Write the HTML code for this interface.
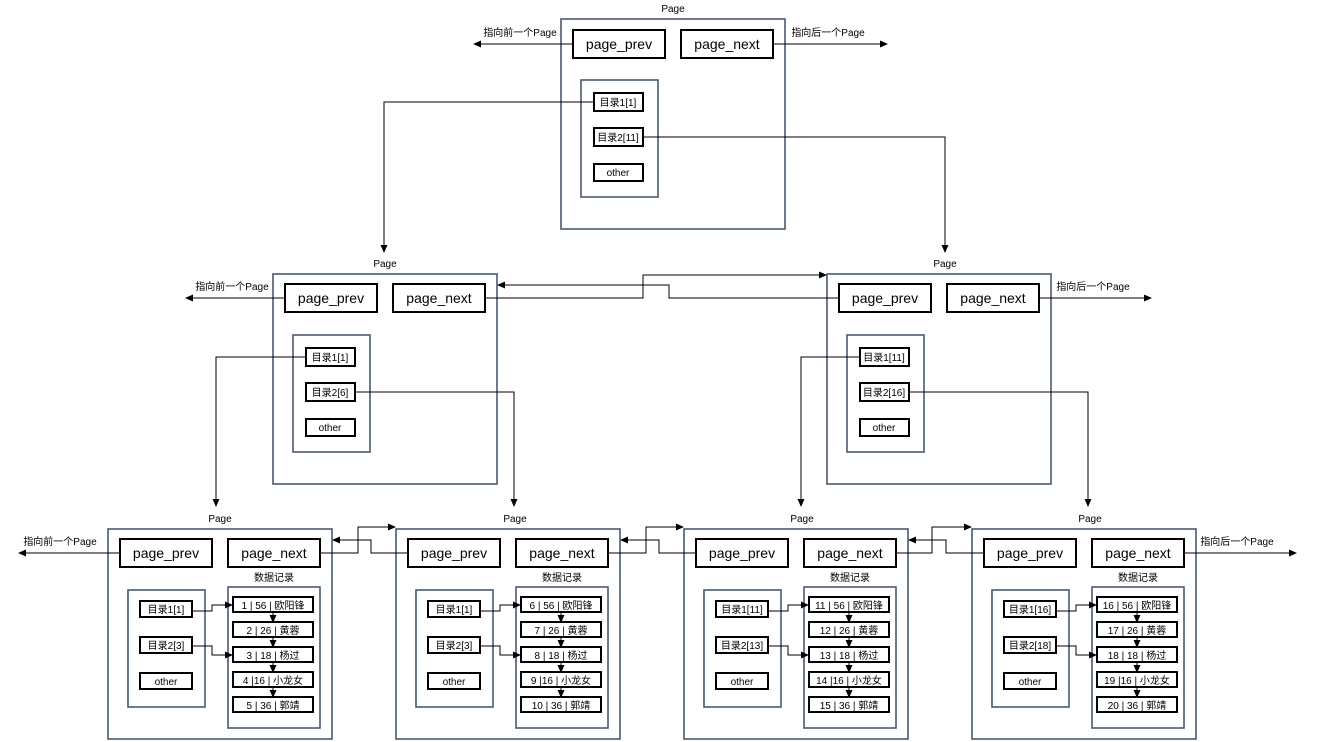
<!DOCTYPE html>
<html><head><meta charset="utf-8"><style>
html,body{margin:0;padding:0;background:#fff}
svg{display:block}
text{font-family:"Liberation Sans","Noto Sans CJK SC",sans-serif;fill:#000}
.o{fill:#fff;stroke:#4a5a70;stroke-width:1.6}
.b{fill:#fff;stroke:#000;stroke-width:2}
.l{fill:none;stroke:#000;stroke-width:1}
.big{font-size:14px}
.sm{font-size:10px}
</style></head><body>
<svg width="1322" height="742" viewBox="0 0 1322 742" xmlns="http://www.w3.org/2000/svg">
<defs>
<marker id="a" markerWidth="8" markerHeight="8" refX="7" refY="4" orient="auto" markerUnits="userSpaceOnUse"><path d="M0,0.5 L8,4 L0,7.5z" fill="#000"/></marker>
</defs>

<!-- TOP PAGE -->
<text x="673" y="12" class="sm" text-anchor="middle">Page</text>
<g transform="translate(561,19)">
<rect class="o" x="0" y="0" width="224" height="210"/>
<rect class="b" x="12" y="11" width="92" height="28"/><text x="58" y="30" class="big" text-anchor="middle">page_prev</text>
<rect class="b" x="120" y="11" width="92" height="28"/><text x="166" y="30" class="big" text-anchor="middle">page_next</text>
<rect class="o" x="20" y="61" width="77" height="117"/>
<rect class="b" x="33" y="74" width="49" height="18"/><text x="57" y="87" class="sm" text-anchor="middle">目录1[1]</text>
<rect class="b" x="33" y="109" width="49" height="18"/><text x="57" y="122" class="sm" text-anchor="middle">目录2[11]</text>
<rect class="b" x="33" y="145" width="49" height="17"/><text x="57" y="157" class="sm" text-anchor="middle">other</text>
</g>
<path class="l" d="M573,44 H474" marker-end="url(#a)"/>
<text x="520" y="36" class="sm" text-anchor="middle">指向前一个Page</text>
<path class="l" d="M773,44 H887" marker-end="url(#a)"/>
<text x="828" y="36" class="sm" text-anchor="middle">指向后一个Page</text>
<path class="l" d="M594,102 H384 V252" marker-end="url(#a)"/>
<path class="l" d="M643,137 H945 V252" marker-end="url(#a)"/>

<!-- MID PAGES -->
<text x="385" y="267" class="sm" text-anchor="middle">Page</text>
<text x="945" y="267" class="sm" text-anchor="middle">Page</text>
<g transform="translate(273,274)">
<rect class="o" x="0" y="0" width="224" height="210"/>
<rect class="b" x="12" y="10" width="92" height="28"/><text x="58" y="29" class="big" text-anchor="middle">page_prev</text>
<rect class="b" x="120" y="10" width="92" height="28"/><text x="166" y="29" class="big" text-anchor="middle">page_next</text>
<rect class="o" x="20" y="61" width="77" height="117"/>
<rect class="b" x="33" y="74" width="49" height="18"/><text x="57" y="87" class="sm" text-anchor="middle">目录1[1]</text>
<rect class="b" x="33" y="109" width="49" height="18"/><text x="57" y="122" class="sm" text-anchor="middle">目录2[6]</text>
<rect class="b" x="33" y="145" width="49" height="17"/><text x="57" y="157" class="sm" text-anchor="middle">other</text>
</g>
<g transform="translate(827,274)">
<rect class="o" x="0" y="0" width="224" height="210"/>
<rect class="b" x="12" y="10" width="92" height="28"/><text x="58" y="29" class="big" text-anchor="middle">page_prev</text>
<rect class="b" x="120" y="10" width="92" height="28"/><text x="166" y="29" class="big" text-anchor="middle">page_next</text>
<rect class="o" x="20" y="61" width="77" height="117"/>
<rect class="b" x="33" y="74" width="49" height="18"/><text x="57" y="87" class="sm" text-anchor="middle">目录1[11]</text>
<rect class="b" x="33" y="109" width="49" height="18"/><text x="57" y="122" class="sm" text-anchor="middle">目录2[16]</text>
<rect class="b" x="33" y="145" width="49" height="17"/><text x="57" y="157" class="sm" text-anchor="middle">other</text>
</g>
<path class="l" d="M285,298 H186" marker-end="url(#a)"/>
<text x="232" y="290" class="sm" text-anchor="middle">指向前一个Page</text>
<path class="l" d="M1039,298 H1151" marker-end="url(#a)"/>
<text x="1093" y="290" class="sm" text-anchor="middle">指向后一个Page</text>
<path class="l" d="M485,298 H643 V275 H826" marker-end="url(#a)"/>
<path class="l" d="M839,298 H669 V285 H498" marker-end="url(#a)"/>
<path class="l" d="M306,357 H216 V506" marker-end="url(#a)"/>
<path class="l" d="M355,392 H514 V506" marker-end="url(#a)"/>
<path class="l" d="M860,357 H801 V506" marker-end="url(#a)"/>
<path class="l" d="M909,392 H1088 V506" marker-end="url(#a)"/>

<!-- BOTTOM PAGES -->
<text x="220" y="522" class="sm" text-anchor="middle">Page</text>
<text x="515" y="522" class="sm" text-anchor="middle">Page</text>
<text x="802" y="522" class="sm" text-anchor="middle">Page</text>
<text x="1090" y="522" class="sm" text-anchor="middle">Page</text>

<g transform="translate(108,529)">
<rect class="o" x="0" y="0" width="224" height="210"/>
<rect class="b" x="12" y="10" width="92" height="28"/><text x="58" y="29" class="big" text-anchor="middle">page_prev</text>
<rect class="b" x="120" y="10" width="92" height="28"/><text x="166" y="29" class="big" text-anchor="middle">page_next</text>
<text x="166" y="52" class="sm" text-anchor="middle">数据记录</text>
<rect class="o" x="120" y="58" width="92" height="141"/>
<rect class="o" x="20" y="61" width="77" height="117"/>
<rect class="b" x="32" y="72" width="52" height="16"/><text x="58" y="84" class="sm" text-anchor="middle">目录1[1]</text>
<rect class="b" x="32" y="108" width="52" height="16"/><text x="58" y="120" class="sm" text-anchor="middle">目录2[3]</text>
<rect class="b" x="32" y="144" width="52" height="16"/><text x="58" y="156" class="sm" text-anchor="middle">other</text>
<path class="l" d="M84,82 H104 V76 H124" marker-end="url(#a)"/>
<path class="l" d="M84,117 H104 V126 H124" marker-end="url(#a)"/>
<path class="l" d="M165,83 V93" marker-end="url(#a)"/><path class="l" d="M165,108 V118" marker-end="url(#a)"/><path class="l" d="M165,133 V143" marker-end="url(#a)"/><path class="l" d="M165,158 V168" marker-end="url(#a)"/>
<rect class="b" x="125" y="68" width="80" height="15"/><text x="165" y="80" class="sm" text-anchor="middle">1 | 56 | 欧阳锋</text>
<rect class="b" x="125" y="93" width="80" height="15"/><text x="165" y="105" class="sm" text-anchor="middle">2 | 26 | 黄蓉</text>
<rect class="b" x="125" y="118" width="80" height="15"/><text x="165" y="130" class="sm" text-anchor="middle">3 | 18 | 杨过</text>
<rect class="b" x="125" y="143" width="80" height="15"/><text x="165" y="155" class="sm" text-anchor="middle">4 |16 | 小龙女</text>
<rect class="b" x="125" y="168" width="80" height="15"/><text x="165" y="180" class="sm" text-anchor="middle">5 | 36 | 郭靖</text>
</g>

<g transform="translate(396,529)">
<rect class="o" x="0" y="0" width="224" height="210"/>
<rect class="b" x="12" y="10" width="92" height="28"/><text x="58" y="29" class="big" text-anchor="middle">page_prev</text>
<rect class="b" x="120" y="10" width="92" height="28"/><text x="166" y="29" class="big" text-anchor="middle">page_next</text>
<text x="166" y="52" class="sm" text-anchor="middle">数据记录</text>
<rect class="o" x="120" y="58" width="92" height="141"/>
<rect class="o" x="20" y="61" width="77" height="117"/>
<rect class="b" x="32" y="72" width="52" height="16"/><text x="58" y="84" class="sm" text-anchor="middle">目录1[1]</text>
<rect class="b" x="32" y="108" width="52" height="16"/><text x="58" y="120" class="sm" text-anchor="middle">目录2[3]</text>
<rect class="b" x="32" y="144" width="52" height="16"/><text x="58" y="156" class="sm" text-anchor="middle">other</text>
<path class="l" d="M84,82 H104 V76 H124" marker-end="url(#a)"/>
<path class="l" d="M84,117 H104 V126 H124" marker-end="url(#a)"/>
<path class="l" d="M165,83 V93" marker-end="url(#a)"/><path class="l" d="M165,108 V118" marker-end="url(#a)"/><path class="l" d="M165,133 V143" marker-end="url(#a)"/><path class="l" d="M165,158 V168" marker-end="url(#a)"/>
<rect class="b" x="125" y="68" width="80" height="15"/><text x="165" y="80" class="sm" text-anchor="middle">6 | 56 | 欧阳锋</text>
<rect class="b" x="125" y="93" width="80" height="15"/><text x="165" y="105" class="sm" text-anchor="middle">7 | 26 | 黄蓉</text>
<rect class="b" x="125" y="118" width="80" height="15"/><text x="165" y="130" class="sm" text-anchor="middle">8 | 18 | 杨过</text>
<rect class="b" x="125" y="143" width="80" height="15"/><text x="165" y="155" class="sm" text-anchor="middle">9 |16 | 小龙女</text>
<rect class="b" x="125" y="168" width="80" height="15"/><text x="165" y="180" class="sm" text-anchor="middle">10 | 36 | 郭靖</text>
</g>

<g transform="translate(684,529)">
<rect class="o" x="0" y="0" width="224" height="210"/>
<rect class="b" x="12" y="10" width="92" height="28"/><text x="58" y="29" class="big" text-anchor="middle">page_prev</text>
<rect class="b" x="120" y="10" width="92" height="28"/><text x="166" y="29" class="big" text-anchor="middle">page_next</text>
<text x="166" y="52" class="sm" text-anchor="middle">数据记录</text>
<rect class="o" x="120" y="58" width="92" height="141"/>
<rect class="o" x="20" y="61" width="77" height="117"/>
<rect class="b" x="32" y="72" width="52" height="16"/><text x="58" y="84" class="sm" text-anchor="middle">目录1[11]</text>
<rect class="b" x="32" y="108" width="52" height="16"/><text x="58" y="120" class="sm" text-anchor="middle">目录2[13]</text>
<rect class="b" x="32" y="144" width="52" height="16"/><text x="58" y="156" class="sm" text-anchor="middle">other</text>
<path class="l" d="M84,82 H104 V76 H124" marker-end="url(#a)"/>
<path class="l" d="M84,117 H104 V126 H124" marker-end="url(#a)"/>
<path class="l" d="M165,83 V93" marker-end="url(#a)"/><path class="l" d="M165,108 V118" marker-end="url(#a)"/><path class="l" d="M165,133 V143" marker-end="url(#a)"/><path class="l" d="M165,158 V168" marker-end="url(#a)"/>
<rect class="b" x="125" y="68" width="80" height="15"/><text x="165" y="80" class="sm" text-anchor="middle">11 | 56 | 欧阳锋</text>
<rect class="b" x="125" y="93" width="80" height="15"/><text x="165" y="105" class="sm" text-anchor="middle">12 | 26 | 黄蓉</text>
<rect class="b" x="125" y="118" width="80" height="15"/><text x="165" y="130" class="sm" text-anchor="middle">13 | 18 | 杨过</text>
<rect class="b" x="125" y="143" width="80" height="15"/><text x="165" y="155" class="sm" text-anchor="middle">14 |16 | 小龙女</text>
<rect class="b" x="125" y="168" width="80" height="15"/><text x="165" y="180" class="sm" text-anchor="middle">15 | 36 | 郭靖</text>
</g>

<g transform="translate(972,529)">
<rect class="o" x="0" y="0" width="224" height="210"/>
<rect class="b" x="12" y="10" width="92" height="28"/><text x="58" y="29" class="big" text-anchor="middle">page_prev</text>
<rect class="b" x="120" y="10" width="92" height="28"/><text x="166" y="29" class="big" text-anchor="middle">page_next</text>
<text x="166" y="52" class="sm" text-anchor="middle">数据记录</text>
<rect class="o" x="120" y="58" width="92" height="141"/>
<rect class="o" x="20" y="61" width="77" height="117"/>
<rect class="b" x="32" y="72" width="52" height="16"/><text x="58" y="84" class="sm" text-anchor="middle">目录1[16]</text>
<rect class="b" x="32" y="108" width="52" height="16"/><text x="58" y="120" class="sm" text-anchor="middle">目录2[18]</text>
<rect class="b" x="32" y="144" width="52" height="16"/><text x="58" y="156" class="sm" text-anchor="middle">other</text>
<path class="l" d="M84,82 H104 V76 H124" marker-end="url(#a)"/>
<path class="l" d="M84,117 H104 V126 H124" marker-end="url(#a)"/>
<path class="l" d="M165,83 V93" marker-end="url(#a)"/><path class="l" d="M165,108 V118" marker-end="url(#a)"/><path class="l" d="M165,133 V143" marker-end="url(#a)"/><path class="l" d="M165,158 V168" marker-end="url(#a)"/>
<rect class="b" x="125" y="68" width="80" height="15"/><text x="165" y="80" class="sm" text-anchor="middle">16 | 56 | 欧阳锋</text>
<rect class="b" x="125" y="93" width="80" height="15"/><text x="165" y="105" class="sm" text-anchor="middle">17 | 26 | 黄蓉</text>
<rect class="b" x="125" y="118" width="80" height="15"/><text x="165" y="130" class="sm" text-anchor="middle">18 | 18 | 杨过</text>
<rect class="b" x="125" y="143" width="80" height="15"/><text x="165" y="155" class="sm" text-anchor="middle">19 |16 | 小龙女</text>
<rect class="b" x="125" y="168" width="80" height="15"/><text x="165" y="180" class="sm" text-anchor="middle">20 | 36 | 郭靖</text>
</g>

<path class="l" d="M120,553 H19" marker-end="url(#a)"/>
<text x="60" y="545" class="sm" text-anchor="middle">指向前一个Page</text>
<path class="l" d="M1184,553 H1296" marker-end="url(#a)"/>
<text x="1237" y="545" class="sm" text-anchor="middle">指向后一个Page</text>

<path class="l" d="M320,553 H358 V527 H395" marker-end="url(#a)"/>
<path class="l" d="M408,553 H371 V540 H333" marker-end="url(#a)"/>
<path class="l" d="M608,553 H646 V527 H683" marker-end="url(#a)"/>
<path class="l" d="M696,553 H659 V540 H621" marker-end="url(#a)"/>
<path class="l" d="M896,553 H932 V527 H971" marker-end="url(#a)"/>
<path class="l" d="M984,553 H946 V540 H909" marker-end="url(#a)"/>
</svg>
</body></html>
